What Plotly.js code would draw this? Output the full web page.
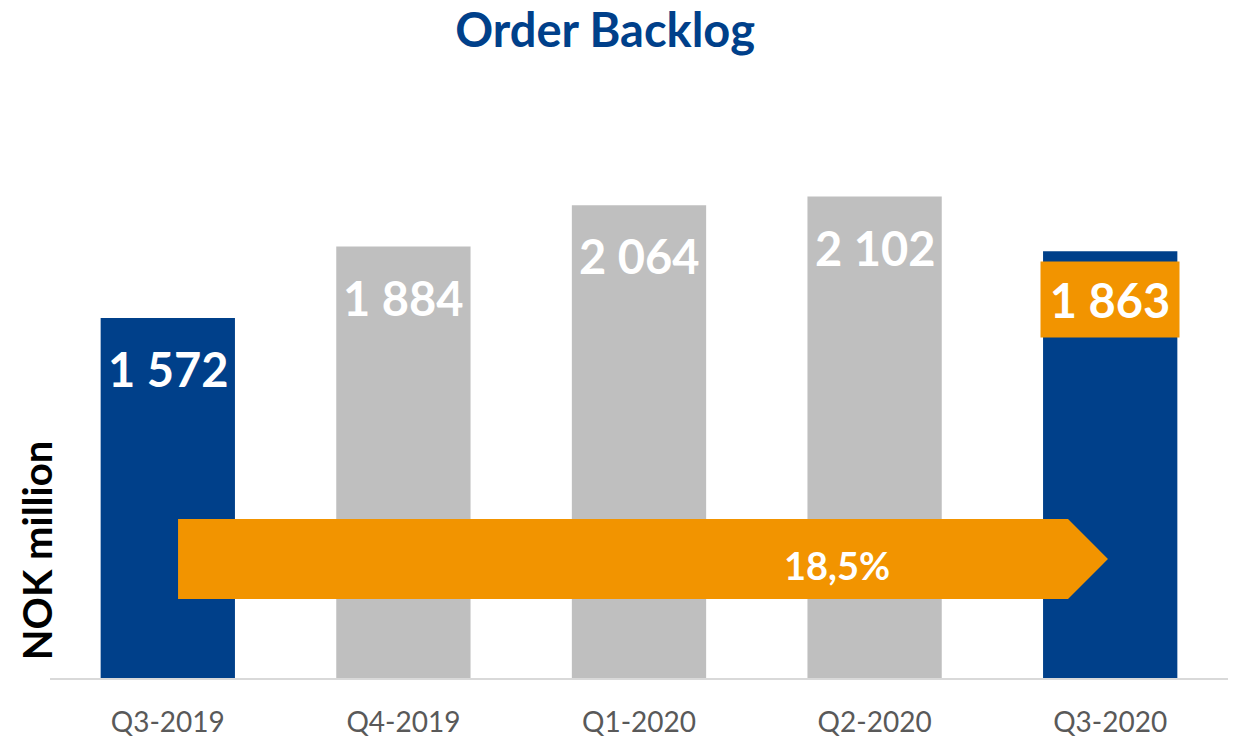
<!DOCTYPE html>
<html>
<head>
<meta charset="utf-8">
<script src="https://cdn.plot.ly/plotly-3.0.1.min.js"></script>
<style>html,body{margin:0;padding:0;background:#fff;}#chart{width:1235px;height:737px;}</style>
</head>
<body>
<div id="chart"></div>
<script>
const categories = ["Q3-2019", "Q4-2019", "Q1-2020", "Q2-2020", "Q3-2020"];
const values = [1572, 1884, 2064, 2102, 1863];
const labels = ["1 572", "1 884", "2 064", "2 102", "1 863"];
const barColors = ["#00408A", "#BFBFBF", "#BFBFBF", "#BFBFBF", "#00408A"];
const growthLabel = "18,5%";

const FONT = "Lato, 'Open Sans', sans-serif";
const ORANGE = "#F29400";

const annotations = categories.map((c, i) => {
  const a = {
    x: c, y: values[i], xref: "x", yref: "y", xanchor: "center", yanchor: "middle",
    text: "<b>" + labels[i] + "</b>", showarrow: false,
    yshift: i === 4 ? -48 : -51,
    font: {family: FONT, size: 47, color: "#FFFFFF"},
    borderpad: 2
  };
  if (i === 4) { a.bgcolor = ORANGE; a.width = 134; a.height = 71; }
  return a;
});
annotations.push({
  xref: "paper", yref: "paper", x: 0.668, y: 0.198, xanchor: "center", yanchor: "middle", showarrow: false,
  text: "<b>" + growthLabel + "</b>", font: {family: FONT, size: 38, color: "#FFFFFF"}
});
annotations.push({
  xref: "paper", yref: "paper", x: -0.011, y: 0.223, xanchor: "center", yanchor: "middle",
  textangle: -90, showarrow: false,
  text: "<b>NOK million</b>", font: {family: FONT, size: 40, color: "#000000"}
});

const shapes = [{
  type: "path", xref: "paper", yref: "paper",
  path: "M 0.1087 0.2775 L 0.8642 0.2775 L 0.8981 0.2077 L 0.8642 0.1379 L 0.1087 0.1379 Z",
  fillcolor: ORANGE, line: {width: 0}, layer: "above"
}];

const data = [{
  type: "bar", x: categories, y: values,
  marker: {color: barColors, line: {width: 0}},
  hoverinfo: "x+y"
}];

const layout = {
  width: 1235, height: 737,
  margin: {l: 50, r: 7, t: 105, b: 59},
  paper_bgcolor: "#FFFFFF", plot_bgcolor: "#FFFFFF",
  title: {text: "<b>Order Backlog</b>", x: 0.49, xanchor: "center", y: 0.958, yanchor: "middle",
          font: {family: FONT, size: 47, color: "#00408A"}},
  bargap: 0.43,
  showlegend: false,
  xaxis: {type: "category", showgrid: false, showline: true, linecolor: "#D9D9D9", linewidth: 2,
          ticks: "", ticklabelstandoff: 18, tickfont: {family: FONT, size: 28, color: "#595959"}, zeroline: false},
  yaxis: {range: [0, 2502], showgrid: false, showticklabels: false, zeroline: false, showline: false, ticks: ""},
  annotations: annotations,
  shapes: shapes
};

Plotly.newPlot("chart", data, layout, {displayModeBar: false, staticPlot: true});
</script>
</body>
</html>
